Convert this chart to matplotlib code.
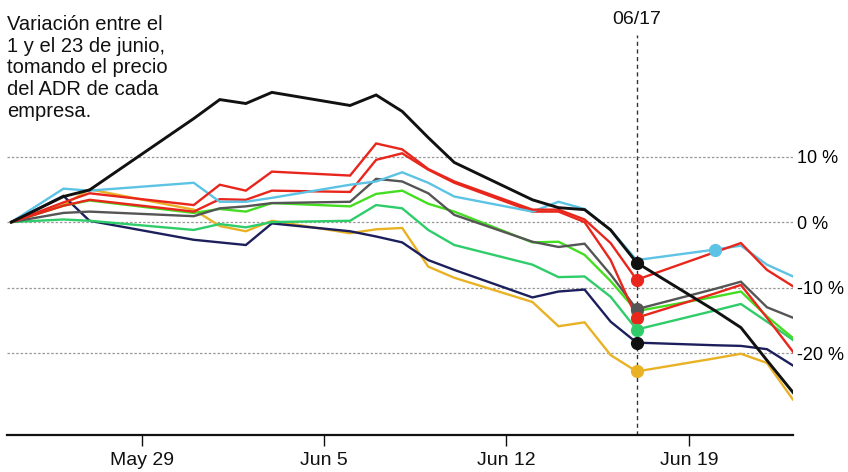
import datetime as dt
import matplotlib
matplotlib.use("Agg")
import matplotlib.pyplot as plt

plt.rcParams["font.family"] = ["Liberation Sans", "DejaVu Sans"]

# --- Data -------------------------------------------------------------------
days = ["2019-05-24", "2019-05-26", "2019-05-27", "2019-05-31", "2019-06-01",
        "2019-06-02", "2019-06-03", "2019-06-06", "2019-06-07", "2019-06-08",
        "2019-06-09", "2019-06-10", "2019-06-13", "2019-06-14", "2019-06-15",
        "2019-06-16", "2019-06-17", "2019-06-20", "2019-06-21", "2019-06-22",
        "2019-06-23"]

black  = [0, 3.9, 4.9, 15.8, 18.7, 18.1, 19.8, 17.8, 19.4, 16.9, 12.9, 9.1,
          3.4, 2.2, 1.9, -1.2, -6.2, -13.5, -16.1, -21.1, -26.0]
cyan   = [0, 5.1, 4.8, 6.0, 3.1, 3.1, 3.7, 5.7, 6.2, 7.6, 6.0, 3.9,
          1.6, 3.1, 2.0, -1.2, -5.8, -4.2, -3.6, -6.5, -8.3]
red_a  = [0, 3.0, 4.4, 2.6, 5.7, 4.8, 7.7, 7.1, 12.0, 11.1, 8.1, 6.2,
          1.9, 1.9, 0.4, -3.2, -8.8, -4.6, -3.2, -7.3, -9.8]
red_b  = [0, 2.5, 3.4, 1.6, 3.5, 3.4, 4.8, 4.6, 9.5, 10.5, 8.0, 6.0,
          1.6, 1.6, 0.0, -5.8, -14.6, -10.9, -9.6, -14.6, -19.8]
gray   = [0, 1.4, 1.6, 0.9, 2.1, 2.4, 2.9, 3.1, 6.6, 6.2, 4.4, 1.1,
          -3.0, -3.8, -3.3, -8.0, -13.3, -10.2, -9.1, -13.0, -14.6]
lime   = [0, 2.5, 3.3, 1.4, 2.0, 1.6, 2.9, 2.4, 4.3, 4.8, 2.8, 1.6,
          -3.1, -3.0, -5.0, -9.0, -13.6, -11.4, -10.6, -14.4, -17.7]
spring = [0, 0.4, 0.2, -1.2, -0.3, -0.8, 0.0, 0.2, 2.6, 2.1, -1.2, -3.5,
          -6.5, -8.4, -8.3, -11.4, -16.4, -13.5, -12.5, -15.2, -18.0]
navy   = [0, 4.0, 0.2, -2.7, -3.1, -3.5, -0.2, -1.4, -2.2, -3.1, -5.8, -7.3,
          -11.5, -10.6, -10.3, -15.2, -18.4, -18.8, -18.9, -19.4, -21.9]
yellow = [0, 2.6, 5.0, 1.9, -0.6, -1.4, 0.2, -1.7, -1.1, -0.9, -6.8, -8.5,
          -12.2, -15.9, -15.3, -20.3, -22.8, -20.8, -20.1, -21.5, -27.1]

tick_days = ["2019-05-29", "2019-06-05", "2019-06-12", "2019-06-19"]
tick_labels = ["May 29", "Jun 5", "Jun 12", "Jun 19"]
grid_vals = [10, 0, -10, -20]
grid_labels = ["10 %", "0 %", "-10 %", "-20 %"]
note_lines = ["Variación entre el", "1 y el 23 de junio,", "tomando el precio",
              "del ADR de cada", "empresa."]

# --- Palette ----------------------------------------------------------------
C_BLACK  = "#111111"
C_CYAN   = "#5cc3e4"
C_RED    = "#e8261c"
C_GRAY   = "#555555"
C_LIME   = "#44dd22"
C_SPRING = "#2fcc6a"
C_NAVY   = "#1c1f5c"
C_YELLOW = "#e8b224"
C_GRID   = "#999999"

W, H = 848, 472
x = [dt.datetime.strptime(d, "%Y-%m-%d") for d in days]
mark_i = days.index("2019-06-17")
cyan_mark_i = days.index("2019-06-20")

fig = plt.figure(figsize=(W / 100, H / 100), dpi=100)
ax = fig.add_axes([7 / W, 37 / H, 786 / W, 435 / H])

for v in grid_vals:
    ax.axhline(v, color=C_GRID, lw=0.9, ls=(0, (2, 1.5)), zorder=0)

x17 = x[mark_i]
ax.axvline(x17, ymin=0, ymax=0.92, color="#333333", lw=1.0,
           ls=(0, (3, 2.5)), zorder=1)
ax.text(x17, 30.9, "06/17", fontsize=14, ha="center", va="center",
        color="#111111")

series = [
    (yellow, C_YELLOW, 1.7),
    (navy, C_NAVY, 1.7),
    (spring, C_SPRING, 1.7),
    (lime, C_LIME, 1.7),
    (gray, C_GRAY, 1.7),
    (red_b, C_RED, 1.7),
    (cyan, C_CYAN, 1.7),
    (red_a, C_RED, 1.7),
    (black, C_BLACK, 2.1),
]
for vals, col, lw in series:
    ax.plot(x, vals, color=col, lw=lw, zorder=3, solid_joinstyle="miter")

# markers on 06/17
for vals, col in [(black, C_BLACK), (red_a, C_RED), (lime, C_LIME),
                  (gray, C_GRAY), (red_b, C_RED), (spring, C_SPRING),
                  (navy, C_BLACK), (yellow, C_YELLOW)]:
    ax.plot(x[mark_i], vals[mark_i], "o", ms=8.5, color=col, zorder=5)
ax.plot(x[cyan_mark_i], cyan[cyan_mark_i], "o", ms=8.5, color=C_CYAN, zorder=5)

# note, one line at a time (baselines ~21.7 px apart)
for i, line in enumerate(note_lines):
    fig.text(7 / W, 1 - (30 + i * 21.7) / H, line, fontsize=14.5,
             ha="left", va="baseline", color="#111111")

ax.set_xlim(dt.datetime(2019, 5, 23, 20), dt.datetime(2019, 6, 23))
ax.set_ylim(-32.5, 33.9)

ax.set_xticks([dt.datetime.strptime(d, "%Y-%m-%d") for d in tick_days])
ax.set_xticklabels(tick_labels, fontsize=14)
ax.tick_params(axis="x", length=8, width=1.0, direction="out", pad=4,
               colors="#111111")

ax.yaxis.tick_right()
ax.set_yticks(grid_vals)
ax.set_yticklabels(grid_labels, fontsize=13)
ax.tick_params(axis="y", length=0, pad=3)

for s in ["top", "left", "right"]:
    ax.spines[s].set_visible(False)
ax.spines["bottom"].set_linewidth(1.6)
ax.spines["bottom"].set_color("#111111")

fig.savefig("out.png", dpi=100, facecolor="white")
